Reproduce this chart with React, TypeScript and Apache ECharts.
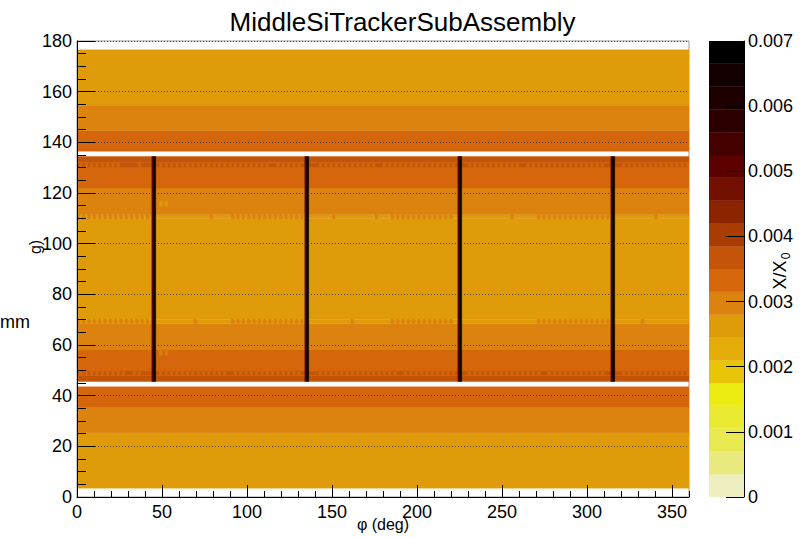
import React, { useEffect, useRef } from 'react';
import * as echarts from 'echarts';

const FONT = '"Liberation Sans", Arial, Helvetica, sans-serif';

const TITLE = 'MiddleSiTrackerSubAssembly';
const X_TITLE = 'φ (deg)';
const Z_TITLE = 'X/X';
const Z_SUB = '0';
const Y_TITLE_FRAG_A = 'mm';
const Y_TITLE_FRAG_B = 'g)';

const PHI_MAX = 360;
const Y_MAX = 180;
const Z_MAX = 0.007;
const N_LEVELS = 20;
const N_PHI_BINS = 230;

// colour palette, level 0 (lowest) .. level 19 (highest)
const PALETTE = [
  '#eeeec0', '#e9e97e', '#e8e850', '#eaea32', '#ecec12',
  '#e8c408', '#e4ac08', '#e09b0b', '#dc820e', '#d5660c',
  '#c45508', '#a83c02', '#8c2400', '#741000', '#5c0000',
  '#450000', '#2d0000', '#1e0000', '#140000', '#000000',
];

// full-width bands (y from, y to, X/X0)
const bandLow = [3.5, 25.4, 35.4, 45.6, 47.9, 49.7, 58.0, 68.5, 70.2, 109.8, 111.5, 122.0, 130.3, 132.1, 136.5, 144.6, 154.6];
const bandHigh = [25.4, 35.4, 43.5, 47.9, 49.7, 58.0, 68.5, 70.2, 109.8, 111.5, 122.0, 130.3, 132.1, 134.4, 144.6, 154.6, 176.5];
const bandValue = [0.0026, 0.0030, 0.0033, 0.0037, 0.0037, 0.0033, 0.0030, 0.0026, 0.0026, 0.0026, 0.0030, 0.0033, 0.0037, 0.0037, 0.0033, 0.0030, 0.0026];

// crenellated rows: per-φ-bin cells that differ from the band ('1')
const rowD = [
  '0101010101', '0101010100', '0101000000', '0101010101', '0101010101', '0101010001',
  '0101010101', '0101010101', '0101000000', '0101010101', '0101010101', '0101010101',
  '0001010101', '0101010101', '0100000101', '0101010101', '0101010101', '0101000101',
  '0101010101', '0101010100', '0000010101', '0101010101', '0101010101',
].join('');
const rowC = [
  '1010101010', '1010101010', '1010101000', '0000000000', '0000100000', '0000000010',
  '1010101010', '1010101010', '1010100000', '0000000000', '0001000000', '0000000010',
  '1010101010', '1010101010', '1000000000', '0000000000', '0000000000', '0001010101',
  '0101010101', '0101010101', '0000000000', '0010000000', '0000000000',
].join('');
const rowB = [
  '1010101010', '1010101010', '1010101000', '0000000000', '0000000000', '1000000010',
  '1010101010', '1010101010', '1010100000', '0000001000', '0000000000', '0010000010',
  '1010101010', '1010101010', '1000000000', '0000000000', '0001000000', '0001010101',
  '0101010101', '0101010101', '0000000000', '0000000100', '0000000000',
].join('');
const rowA = [
  '0101010101', '0101010000', '0001000000', '0101010101', '0101010101', '0101010101',
  '0101010101', '0100010101', '0101000000', '0101010101', '0101010101', '0100010101',
  '0101010101', '0101010101', '0100000101', '0101010101', '0101010001', '0101010101',
  '0101010101', '0101010100', '0000010101', '0101010101', '0101010101',
].join('');
const crenLow = [47.9, 68.5, 109.8, 130.3];
const crenHigh = [49.7, 70.2, 111.5, 132.1];
const crenValue = [0.0034, 0.0029, 0.0029, 0.0034];
const crenPattern = [rowD, rowC, rowB, rowA];

// isolated cells
const spotBin = [31, 33, 31, 33];
const spotLow = [114.8, 114.8, 55.9, 55.9];
const spotHigh = [116.6, 116.6, 57.8, 57.8];
const spotValue = [0.0026, 0.0026, 0.0030, 0.0030];

// support walls (two φ bins each)
const wallRedLow = [44.0, 134.0, 224.0, 314.0];
const wallRedHigh = [44.9, 134.9, 224.9, 314.9];
const wallBlackHigh = [46.3, 136.3, 226.3, 316.3];
const wallYLow = 45.6;
const wallYHigh = 134.4;
const wallRedValue = 0.0052;
const wallBlackValue = 0.0068;

const LEVEL_STEP = Z_MAX / N_LEVELS;
const colorOf = (v: number) => PALETTE[Math.max(0, Math.min(N_LEVELS - 1, Math.floor(v / LEVEL_STEP)))];

function buildCells() {
  const cells: number[][] = [];
  const bw = PHI_MAX / N_PHI_BINS;
  bandLow.forEach((lo, i) => cells.push([0, PHI_MAX, lo, bandHigh[i], bandValue[i]]));
  crenPattern.forEach((pat, r) => {
    for (let i = 0; i < pat.length; i++) {
      if (pat[i] === '1') cells.push([i * bw, (i + 1) * bw, crenLow[r], crenHigh[r], crenValue[r]]);
    }
  });
  spotBin.forEach((b, i) => cells.push([b * bw, (b + 1) * bw, spotLow[i], spotHigh[i], spotValue[i]]));
  wallRedLow.forEach((lo, i) => {
    cells.push([lo, wallRedHigh[i], wallYLow, wallYHigh, wallRedValue]);
    cells.push([wallRedHigh[i], wallBlackHigh[i], wallYLow, wallYHigh, wallBlackValue]);
  });
  return cells;
}

function buildBar() {
  return PALETTE.map((_, i) => [0, 1, i * LEVEL_STEP, (i + 1) * LEVEL_STEP, (i + 0.5) * LEVEL_STEP]);
}

const renderCell = (_params: any, api: any) => {
  const a = api.coord([api.value(0), api.value(3)]);
  const b = api.coord([api.value(1), api.value(2)]);
  const fill = colorOf(api.value(4));
  return {
    type: 'rect',
    shape: { x: a[0], y: a[1], width: b[0] - a[0], height: b[1] - a[1] },
    style: { fill, stroke: fill, lineWidth: 0.4 },
  };
};

export default function App() {
  const ref = useRef<HTMLDivElement>(null);
  useEffect(() => {
    if (!ref.current) return;
    const chart = echarts.init(ref.current, undefined, { renderer: 'svg' });
    const black = { color: '#000', width: 1 };
    chart.setOption({
      animation: false,
      backgroundColor: '#ffffff',
      textStyle: { fontFamily: FONT },
      title: {
        text: TITLE,
        left: 'center',
        top: 4,
        textStyle: { fontSize: 26, fontWeight: 'normal', color: '#000', fontFamily: FONT },
      },
      grid: [
        { left: 77, top: 41, width: 612, height: 456, show: true, borderColor: '#999', borderWidth: 1, backgroundColor: 'transparent' },
        { left: 709, top: 41, width: 35, height: 456, show: false },
      ],
      xAxis: [
        {
          type: 'value', gridIndex: 0, min: 0, max: PHI_MAX, interval: 50, position: 'bottom', z: 10,
          axisLine: { show: true, onZero: false, lineStyle: black },
          axisTick: { show: true, inside: true, length: 12, lineStyle: black },
          axisLabel: { fontSize: 18, color: '#000', margin: 6, showMaxLabel: false, fontFamily: FONT },
          splitLine: { show: false },
        },
        { type: 'value', gridIndex: 1, min: 0, max: 1, show: false },
        {
          type: 'value', gridIndex: 0, min: 0, max: PHI_MAX, interval: 10, position: 'bottom', z: 10,
          axisLine: { show: false },
          axisTick: { show: true, inside: true, length: 6, lineStyle: black },
          axisLabel: { show: false },
          splitLine: { show: false },
        },
      ],
      yAxis: [
        {
          type: 'value', gridIndex: 0, min: 0, max: Y_MAX, interval: 20, z: 10,
          axisLine: { show: true, onZero: false, lineStyle: black },
          axisTick: { show: true, inside: true, length: 18, lineStyle: black },
          minorTick: { show: true, splitNumber: 4, length: 9, lineStyle: black },
          splitLine: { show: true, lineStyle: { color: '#222', width: 0.8, type: [1, 2] } },
          axisLabel: { fontSize: 18, color: '#000', margin: 5, fontFamily: FONT },
        },
        {
          type: 'value', gridIndex: 1, position: 'right', min: 0, max: Z_MAX, interval: 0.001, z: 10,
          axisLine: { show: true, onZero: false, lineStyle: black },
          axisTick: { show: true, inside: true, length: 18, lineStyle: black },
          axisLabel: {
            fontSize: 18, color: '#000', margin: 4, fontFamily: FONT,
            formatter: (v: number) => (v === 0 ? '0' : v.toFixed(3)),
          },
          splitLine: { show: false },
        },
      ],
      series: [
        {
          type: 'custom', xAxisIndex: 0, yAxisIndex: 0, renderItem: renderCell, data: buildCells(),
          encode: { x: [0, 1], y: [2, 3] }, clip: true, z: 2,
        },
        {
          type: 'custom', xAxisIndex: 1, yAxisIndex: 1, renderItem: renderCell, data: buildBar(),
          encode: { x: [0, 1], y: [2, 3] }, clip: true, z: 2,
        },
      ],
      graphic: [
        { type: 'text', x: 383, y: 524, style: { text: X_TITLE, fontSize: 16, fill: '#000', align: 'center', verticalAlign: 'middle', fontFamily: FONT } },
        { type: 'text', x: 780, y: 275, rotation: Math.PI / 2, style: { text: Z_TITLE, fontSize: 18, fill: '#000', align: 'center', verticalAlign: 'middle', fontFamily: FONT } },
        { type: 'text', x: 786, y: 256, rotation: Math.PI / 2, style: { text: Z_SUB, fontSize: 12, fill: '#000', align: 'center', verticalAlign: 'middle', fontFamily: FONT } },
        { type: 'text', x: 0, y: 322, style: { text: Y_TITLE_FRAG_A, fontSize: 18, fill: '#000', align: 'left', verticalAlign: 'middle', fontFamily: FONT } },
        { type: 'text', x: 35, y: 247, rotation: Math.PI / 2, style: { text: Y_TITLE_FRAG_B, fontSize: 16, fill: '#000', align: 'center', verticalAlign: 'middle', fontFamily: FONT } },
      ],
    });
    return () => chart.dispose();
  }, []);
  return <div ref={ref} style={{ position: 'absolute', left: 0, top: 0, width: 805, height: 538 }} />;
}
